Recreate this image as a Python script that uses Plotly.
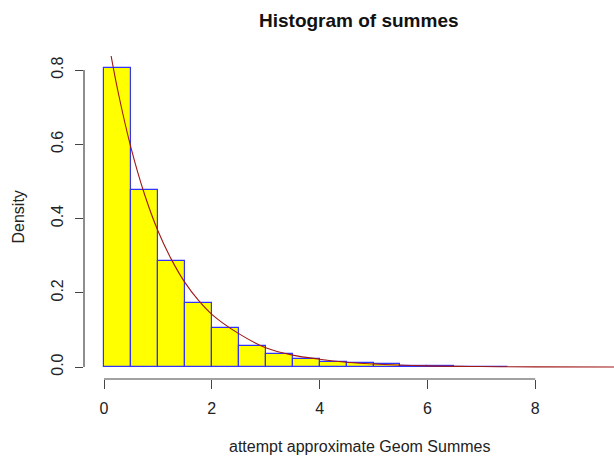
import plotly.graph_objects as go

# Histogram of summes: bin edges (width 0.5) and densities
bin_left = [0.0, 0.5, 1.0, 1.5, 2.0, 2.5, 3.0, 3.5, 4.0, 4.5, 5.0, 5.5, 6.0, 6.5, 7.0]
density = [0.805, 0.476, 0.286, 0.172, 0.104, 0.056, 0.035, 0.022, 0.014, 0.010,
           0.007, 0.004, 0.002, 0.001, 0.001]
bin_width = 0.5

# Fitted density curve
curve_x = [0.1, 0.25, 0.5, 0.75, 1.0, 1.25, 1.5, 1.75, 2.0, 2.5, 3.0, 3.5, 4.0,
           4.5, 5.0, 6.0, 7.0, 8.0, 9.5]
curve_y = [0.864, 0.749, 0.591, 0.466, 0.367, 0.290, 0.228, 0.180, 0.142, 0.090,
           0.052, 0.032, 0.021, 0.013, 0.008, 0.003, 0.0012, 0.0005, 0.0001]

x_ticks = [0, 2, 4, 6, 8]
y_ticks = [0.0, 0.2, 0.4, 0.6, 0.8]
y_tick_text = ["0.0", "0.2", "0.4", "0.6", "0.8"]

FONT = "Liberation Sans, Arial, sans-serif"
AXIS_COLOR = "#444444"

fig = go.Figure()

fig.add_trace(go.Bar(
    x=[b + bin_width / 2 for b in bin_left],
    y=density,
    width=bin_width,
    marker=dict(color="#FFFF00", line=dict(color="#3333FF", width=1.2)),
    hoverinfo="skip",
))

fig.add_trace(go.Scatter(
    x=curve_x, y=curve_y,
    mode="lines",
    line=dict(color="#A01818", width=1.1, shape="spline"),
    hoverinfo="skip",
))

# R-style axis lines spanning only the tick range
fig.add_shape(type="line", xref="x", yref="paper",
              x0=x_ticks[0], x1=x_ticks[-1], y0=0, y1=0,
              line=dict(color=AXIS_COLOR, width=1.2))
fig.add_shape(type="line", xref="paper", yref="y",
              x0=0, x1=0, y0=y_ticks[0], y1=y_ticks[-1],
              line=dict(color=AXIS_COLOR, width=1.2))

fig.update_layout(
    width=614, height=456,
    margin=dict(l=84, r=0, t=56, b=77),
    paper_bgcolor="white", plot_bgcolor="white",
    showlegend=False,
    bargap=0,
    font=dict(family=FONT, size=16, color="#222222"),
    xaxis=dict(
        range=[-0.371, 9.462],
        tickvals=x_ticks,
        ticks="outside", ticklen=9, tickwidth=1.2, tickcolor=AXIS_COLOR,
        ticklabelstandoff=6,
        showgrid=False, zeroline=False, showline=False,
        tickfont=dict(size=16, color="#222222"),
    ),
    yaxis=dict(
        range=[-0.0323, 0.8379],
        tickvals=y_ticks, ticktext=y_tick_text,
        ticks="outside", ticklen=8, tickwidth=1.2, tickcolor=AXIS_COLOR,
        tickangle=-90,
        ticklabelstandoff=6,
        showgrid=False, zeroline=False, showline=False,
        tickfont=dict(size=16, color="#222222"),
    ),
    annotations=[
        dict(text="<b>Histogram of summes</b>", xref="paper", yref="paper",
             x=0.5198, y=1.111, xanchor="center", yanchor="middle",
             showarrow=False, font=dict(size=19, color="#111111")),
        dict(text="attempt approximate Geom Summes", xref="paper", yref="paper",
             x=0.5198, y=-0.2105, xanchor="center", yanchor="middle",
             showarrow=False, font=dict(size=16, color="#222222")),
        dict(text="Density", xref="paper", yref="paper",
             x=-0.1245, y=0.5, xanchor="center", yanchor="middle",
             textangle=-90, showarrow=False, font=dict(size=16, color="#222222")),
    ],
)

fig.write_html("out.html")
